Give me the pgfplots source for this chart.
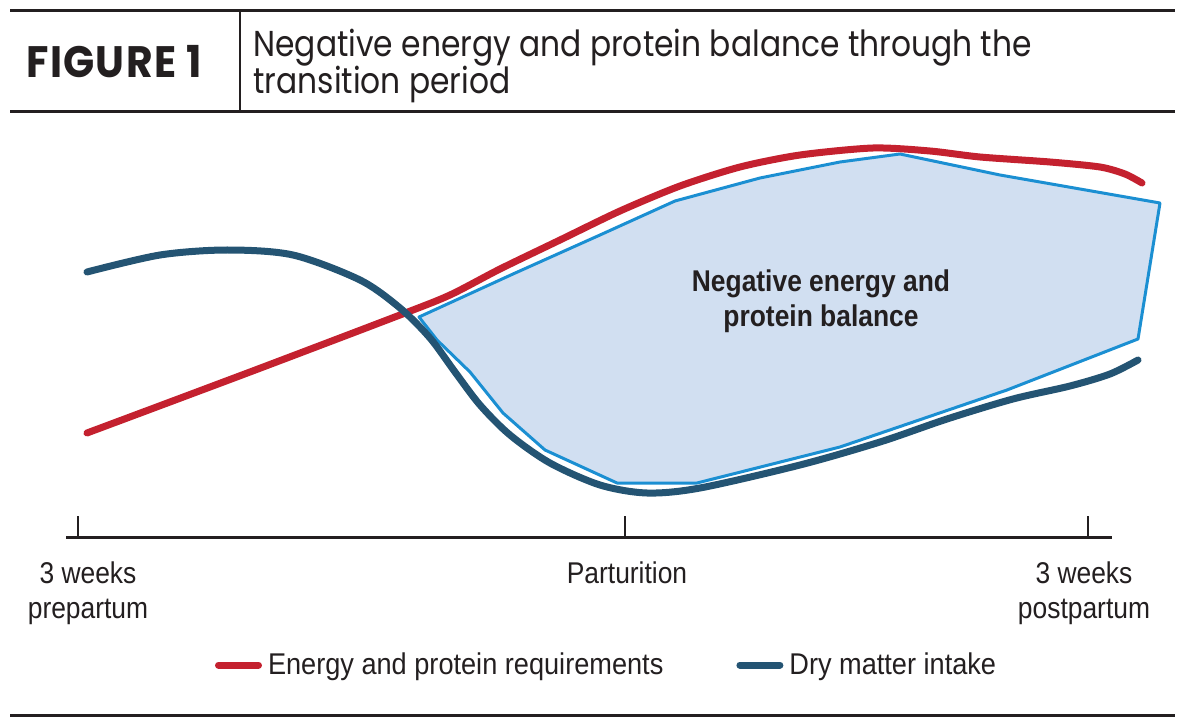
\documentclass[border=0pt]{standalone}
\usepackage{pgfplots}
\pgfplotsset{compat=1.18}
\usepackage{fontspec}
\setmainfont{Liberation Sans}
\newfontfamily\cond{Liberation Sans}[FakeStretch=0.88]
\newfontfamily\condleg{Liberation Sans}[FakeStretch=0.905]
\newfontfamily\head{Poppins}[FakeStretch=0.87]
\newfontfamily\headbold{Poppins}[FakeStretch=0.93, LetterSpace=3]
\definecolor{req}{HTML}{C4212F}
\definecolor{dmi}{HTML}{245473}
\definecolor{nebline}{HTML}{1B8FD2}
\definecolor{nebfill}{HTML}{D1DFF1}
\definecolor{ink}{HTML}{231F20}
\begin{document}
\begin{tikzpicture}
\begin{axis}[
  width=600pt, height=363.5pt, scale only axis,
  xmin=0, xmax=1200, ymin=0, ymax=727, y dir=reverse,
  hide axis, clip=false,
  legend columns=2,
  legend style={at={(axis cs:215,665)}, anchor=west, draw=none, fill=none,
    inner sep=0pt, outer sep=0pt,
    nodes={inner sep=0pt, text=ink, font=\condleg\fontsize{15}{17.5}\selectfont},
    /tikz/every odd column/.append style={column sep=3pt},
    /tikz/every even column/.append style={column sep=36.5pt}},
  legend image code/.code={\draw[line width=3.5pt] (0pt,0pt) -- (20pt,0pt);},
]
\path (axis cs:0,0) rectangle (axis cs:1200,727);
% shaded negative balance area
\addplot[forget plot, fill=nebfill, draw=nebline, line width=1.5pt, line join=round] coordinates {
(419,317) (513,274) (600,235) (675,201) (760,178) (840,162) (900,154)
(1000,175) (1160,203) (1138,339) (1007,390) (840,447) (697,483) (617,483)
(545,450) (503,413) (470,372) (437,340) (419,317)} -- cycle;
% requirements
\addplot[req, line width=3.5pt, line cap=round, smooth, tension=0.45] coordinates {
(87,433) (250,372) (400,315) (450,295) (500,269) (560,240) (620,211)
(680,186) (740,167) (800,155) (873,148) (930,151) (980,157) (1050,162)
(1100,167) (1125,174) (1142,183)};
\addlegendentry{Energy and protein requirements}
% dry matter intake
\addplot[dmi, line width=3.5pt, line cap=round, smooth, tension=0.5] coordinates {
(87,272) (160,255) (227,250) (293,255) (360,280) (400,308) (430,338) (455,372)
(480,405) (510,435) (550,463) (600,485) (647,493) (700,488) (800,465) (880,442)
(947,419) (1013,399) (1070,386) (1110,374) (1138,360)};
\addlegendentry{Dry matter intake}
% header
\draw[ink, line width=1.5pt] (axis cs:10,11) -- (axis cs:1175,11);
\draw[ink, line width=1.5pt] (axis cs:10,112) -- (axis cs:1175,112);
\draw[ink, line width=1pt] (axis cs:240,11) -- (axis cs:240,112);
\node[anchor=base, inner sep=0pt, text=ink, font=\headbold\bfseries\fontsize{22}{24}\selectfont] at (axis cs:114,78) {FIGURE 1};
\node[anchor=base west, inner sep=0pt, text=ink, font=\head\fontsize{18}{20}\selectfont] at (axis cs:253,57) {Negative energy and protein balance through the};
\node[anchor=base west, inner sep=0pt, text=ink, font=\head\fontsize{18}{20}\selectfont] at (axis cs:253,94) {transition period};
% time axis
\draw[ink, line width=1.5pt] (axis cs:66,537) -- (axis cs:1112,537);
\draw[ink, line width=1pt] (axis cs:78,537) -- (axis cs:78,516);
\draw[ink, line width=1pt] (axis cs:625,537) -- (axis cs:625,516);
\draw[ink, line width=1pt] (axis cs:1088,537) -- (axis cs:1088,516);
\node[anchor=base, inner sep=0pt, text=ink, font=\cond\fontsize{15}{17.5}\selectfont, align=center] at (axis cs:88,618) {3 weeks\\prepartum};
\node[anchor=base, inner sep=0pt, text=ink, font=\cond\fontsize{15}{17.5}\selectfont] at (axis cs:627,583) {Parturition};
\node[anchor=base, inner sep=0pt, text=ink, font=\cond\fontsize{15}{17.5}\selectfont, align=center] at (axis cs:1084,618) {3 weeks\\postpartum};
\node[anchor=base, inner sep=0pt, text=ink, font=\cond\bfseries\fontsize{15}{17.5}\selectfont, align=center] at (axis cs:821,327) {Negative energy and\\protein balance};
% bottom rule
\draw[ink, line width=1.5pt] (axis cs:10,715) -- (axis cs:1175,715);
\end{axis}
\end{tikzpicture}
\end{document}
